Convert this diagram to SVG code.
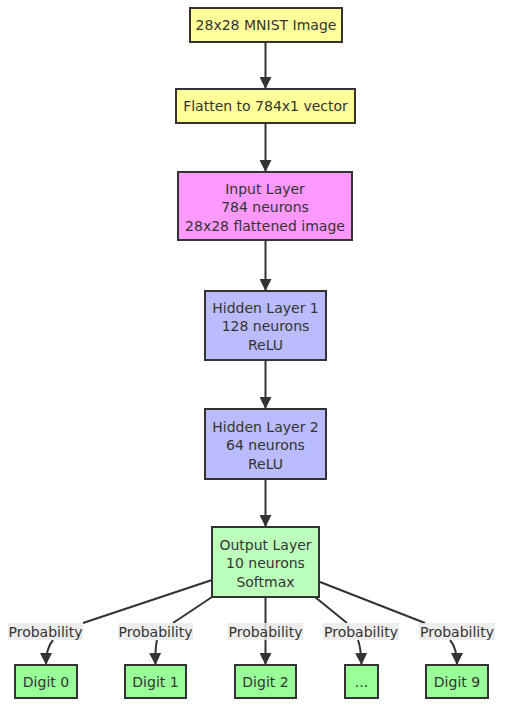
<svg xmlns="http://www.w3.org/2000/svg" width="511" height="717" viewBox="0 0 511 717">
<style>
.n{stroke:#333;stroke-width:2}
.t{font-family:"DejaVu Sans",Verdana,sans-serif;font-size:14px;fill:#333;text-anchor:middle;dominant-baseline:central}
.e{fill:none;stroke:#333;stroke-width:2}
.lb{fill:#e8e8e8;opacity:0.8}
</style>
<defs>
<marker id="ah" markerUnits="userSpaceOnUse" markerWidth="12" markerHeight="12" refX="12" refY="6" orient="auto">
<path d="M0,0 L12,6 L0,12 z" fill="#333"/>
</marker>
</defs>
<rect width="511" height="717" fill="#fff"/>
<g id="edges">
<path class="e" d="M265.5,42 V89" marker-end="url(#ah)"/>
<path class="e" d="M265.5,123 V172" marker-end="url(#ah)"/>
<path class="e" d="M265.5,240 V291" marker-end="url(#ah)"/>
<path class="e" d="M265.5,360 V409" marker-end="url(#ah)"/>
<path class="e" d="M265.5,479 V527" marker-end="url(#ah)"/>
<path class="e" d="M212,580 L83,623 M53,640 Q46,648 46,665" marker-end="url(#ah)"/>
<path class="e" d="M212,597 L173,623 M157,640 Q155,648 155.5,665" marker-end="url(#ah)"/>
<path class="e" d="M265.5,597 V665" marker-end="url(#ah)"/>
<path class="e" d="M315,597 L347,623 M358,640 Q361,648 361.5,665" marker-end="url(#ah)"/>
<path class="e" d="M320,582 L425,623 M450,640 Q457,648 457,665" marker-end="url(#ah)"/>
<g>
<rect class="lb" x="8" y="623" width="75" height="17"/>
<text class="t" x="45.5" y="631.5">Probability</text>
<rect class="lb" x="118" y="623" width="75" height="17"/>
<text class="t" x="155.5" y="631.5">Probability</text>
<rect class="lb" x="228" y="623" width="75" height="17"/>
<text class="t" x="265.5" y="631.5">Probability</text>
<rect class="lb" x="323" y="623" width="76" height="17"/>
<text class="t" x="361" y="631.5">Probability</text>
<rect class="lb" x="419" y="623" width="76" height="17"/>
<text class="t" x="457" y="631.5">Probability</text>
</g>
</g>
<g id="mnist"><rect class="n" x="190" y="8" width="152" height="34" fill="#ffff99"/><text class="t" x="266" y="25">28x28 MNIST Image</text></g>
<g id="flatten"><rect class="n" x="176" y="89" width="179" height="34" fill="#ffff99"/><text class="t" x="265.5" y="106">Flatten to 784x1 vector</text></g>
<g id="input"><rect class="n" x="178" y="172" width="174" height="68" fill="#ff99ff"/><text class="t" x="265" y="188.5">Input Layer</text><text class="t" x="265" y="207">784 neurons</text><text class="t" x="265" y="225.5">28x28 flattened image</text></g>
<g id="hidden1"><rect class="n" x="205" y="291" width="121" height="69" fill="#bbbbff"/><text class="t" x="265.5" y="307.5">Hidden Layer 1</text><text class="t" x="265.5" y="326">128 neurons</text><text class="t" x="265.5" y="344.5">ReLU</text></g>
<g id="hidden2"><rect class="n" x="205" y="409" width="121" height="70" fill="#bbbbff"/><text class="t" x="265.5" y="426.5">Hidden Layer 2</text><text class="t" x="265.5" y="445">64 neurons</text><text class="t" x="265.5" y="463.5">ReLU</text></g>
<g id="output"><rect class="n" x="212" y="527" width="107" height="70" fill="#bbffbb"/><text class="t" x="265.5" y="544.5">Output Layer</text><text class="t" x="265.5" y="563">10 neurons</text><text class="t" x="265.5" y="581.5">Softmax</text></g>
<g id="d0"><rect class="n" x="15" y="665" width="62" height="33" fill="#99ff99"/><text class="t" x="46" y="681.5">Digit 0</text></g>
<g id="d1"><rect class="n" x="125" y="665" width="61" height="33" fill="#99ff99"/><text class="t" x="155.5" y="681.5">Digit 1</text></g>
<g id="d2"><rect class="n" x="235" y="665" width="61" height="33" fill="#99ff99"/><text class="t" x="265.5" y="681.5">Digit 2</text></g>
<g id="dots"><rect class="n" x="345" y="665" width="33" height="33" fill="#99ff99"/><text class="t" x="361.5" y="681.5">...</text></g>
<g id="d9"><rect class="n" x="426" y="665" width="62" height="33" fill="#99ff99"/><text class="t" x="457" y="681.5">Digit 9</text></g>
</svg>
